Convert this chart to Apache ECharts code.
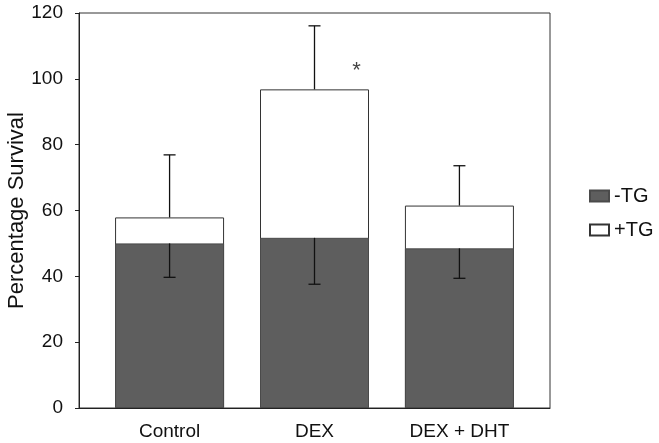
<!DOCTYPE html>
<html><head><meta charset="utf-8">
<script src="https://cdn.jsdelivr.net/npm/echarts@6/dist/echarts.min.js"></script>
<style>html,body{margin:0;padding:0;background:#fff}#c{width:659px;height:443px}</style>
</head><body><div id="c"></div>
<script>
const categories = ['Control', 'DEX', 'DEX + DHT'];
const categoryPositions = [1, 2, 3];
const minusTG = [50.0, 51.7, 48.5];
const minusTGErrLow = [10.3, 14.1, 9.1];
const plusTG = [57.9, 96.8, 61.5];
const plusTGErrHigh = [19.0, 19.3, 12.1];
const yTicks = [0, 20, 40, 60, 80, 100, 120];
const significance = [[2.29, 102.3, '*']];

const FONT = "'Liberation Sans', Arial, sans-serif";
const chart = echarts.init(document.getElementById('c'), null, {renderer: 'canvas'});

function pairs(vals) { return vals.map((v, i) => [categoryPositions[i], v]); }

function errItem(dir) {
  return function (params, api) {
    const x = api.value(0), base = api.value(1), err = api.value(2);
    const p0 = api.coord([x, base]);
    const p1 = api.coord([x, base + dir * err]);
    const hw = 6;
    const st = {stroke: '#111', lineWidth: 1.3};
    return {type: 'group', children: [
      {type: 'line', shape: {x1: p0[0], y1: p0[1], x2: p1[0], y2: p1[1]}, style: st},
      {type: 'line', shape: {x1: p1[0] - hw, y1: p1[1], x2: p1[0] + hw, y2: p1[1]}, style: st}
    ]};
  };
}

chart.setOption({
  animation: false,
  backgroundColor: '#fff',
  textStyle: {fontFamily: FONT},
  grid: {left: 79, right: 109, top: 13, bottom: 35, show: true, borderColor: '#333', borderWidth: 1,
    containLabel: false, outerBoundsMode: 'none'},
  legend: {
    data: ['-TG', '+TG'], orient: 'vertical', left: 589, top: 186, padding: 0,
    itemWidth: 19, itemHeight: 11, itemGap: 14, icon: 'rect',
    textStyle: {fontSize: 20, color: '#111', fontFamily: FONT}
  },
  xAxis: {
    type: 'value', min: 0.375, max: 3.625,
    axisLine: {show: true, lineStyle: {color: '#222', width: 1}},
    axisTick: {show: false}, splitLine: {show: false},
    axisLabel: {
      customValues: categoryPositions, fontSize: 19, color: '#111', margin: 14, fontFamily: FONT,
      formatter: v => categories[categoryPositions.indexOf(Math.round(v))] || ''
    }
  },
  yAxis: {
    type: 'value', min: 0, max: 120, interval: 20,
    name: 'Percentage Survival', nameLocation: 'middle', nameGap: 51, nameMoveOverlap: false,
    nameTextStyle: {fontSize: 22, color: '#111', fontFamily: FONT},
    axisLine: {show: true, lineStyle: {color: '#222', width: 1}},
    axisTick: {show: true, length: 4, lineStyle: {color: '#222'}},
    splitLine: {show: false},
    axisLabel: {
      customValues: yTicks, fontSize: 19, color: '#111', margin: 16, fontFamily: FONT
    }
  },
  series: [
    {name: '+TG', type: 'bar', data: pairs(plusTG), barWidth: 109, barGap: '-100%', z: 2,
      itemStyle: {color: '#fff', borderColor: '#333', borderWidth: 1}},
    {name: '-TG', type: 'bar', data: pairs(minusTG), barWidth: 109, barGap: '-100%', z: 3,
      itemStyle: {color: '#5e5e5e', borderColor: '#4a4a4a', borderWidth: 1}},
    {name: 'errPlus', type: 'custom', z: 5, renderItem: errItem(1),
      data: plusTG.map((v, i) => [categoryPositions[i], v, plusTGErrHigh[i]])},
    {name: 'errMinus', type: 'custom', z: 6, renderItem: errItem(-1),
      data: minusTG.map((v, i) => [categoryPositions[i], v, minusTGErrLow[i]])},
    {name: 'sig', type: 'scatter', symbolSize: 0, z: 7, data: significance,
      label: {show: true, position: 'inside', formatter: p => p.data[2], fontSize: 22, color: '#111', fontFamily: FONT}}
  ]
});
</script></body></html>
